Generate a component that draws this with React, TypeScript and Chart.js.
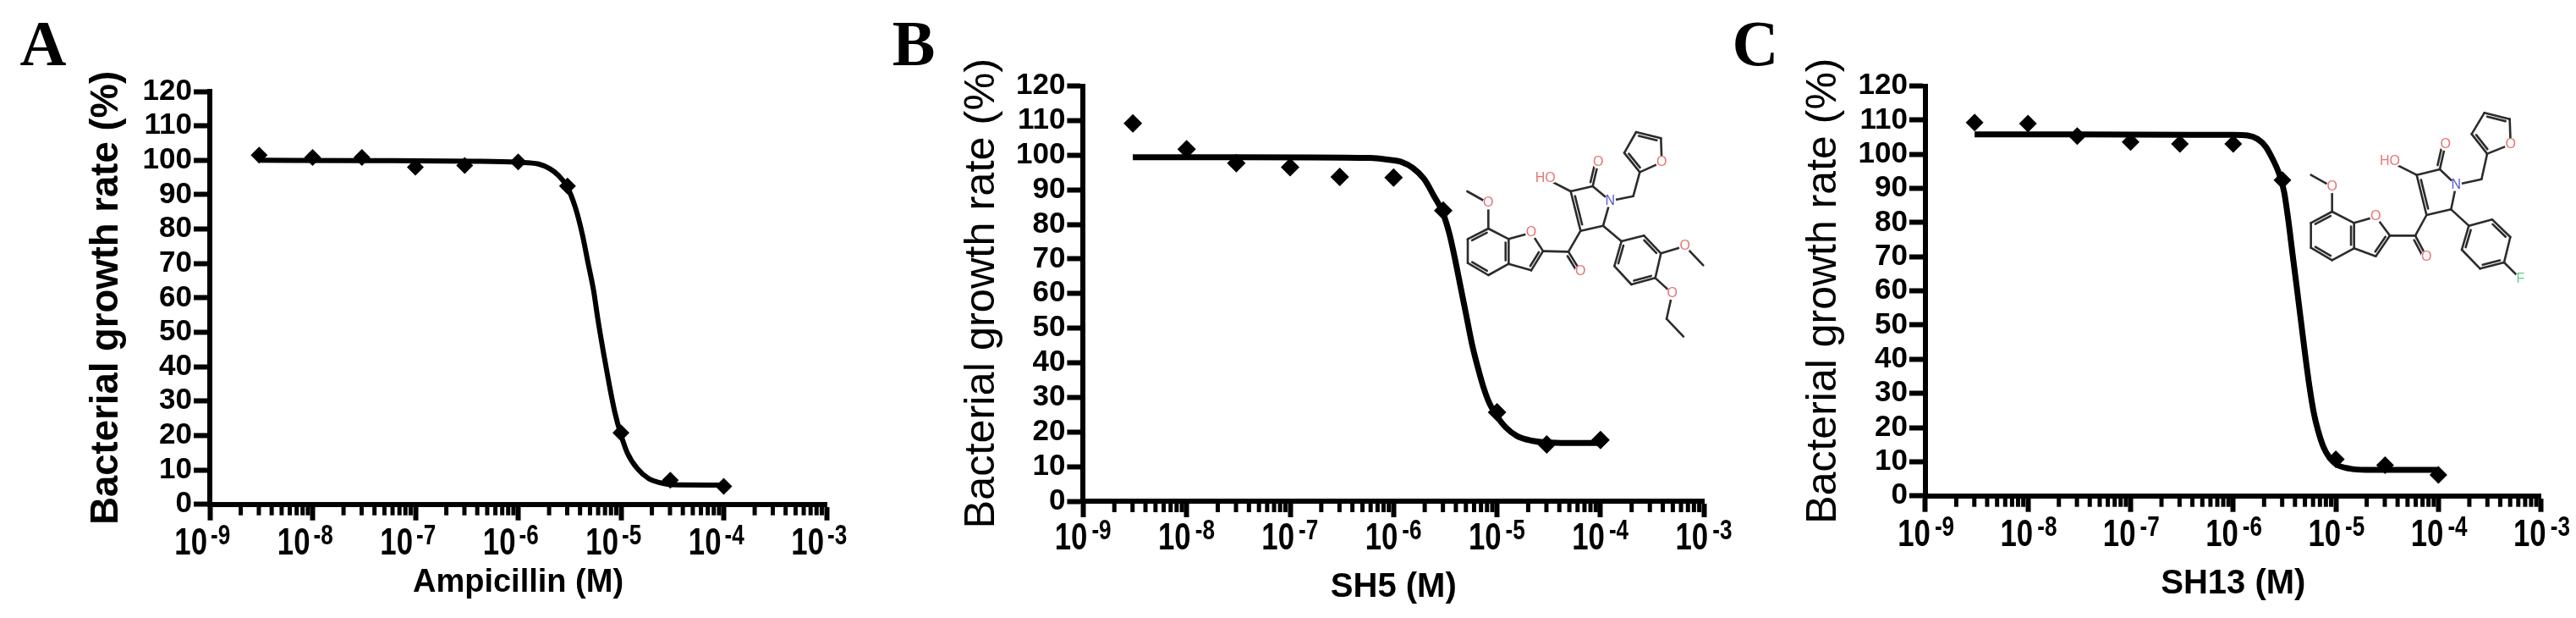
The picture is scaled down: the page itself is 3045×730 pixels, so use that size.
import React, { useEffect, useRef } from "react";
import { Chart, registerables } from "chart.js";

Chart.register(...registerables);

const doseLog = [-8.52, -8, -7.52, -7, -6.52, -6, -5.52, -5, -4.52, -4];

const pointsA = [101.5, 100.8, 100.8, 98, 98.5, 99.5, 92.5, 20.8, 7, 5.2];
const pointsB = [109.2, 101.7, 97.7, 96.5, 93.7, 93.5, 84, 25.7, 16.4, 17.7];
const pointsC = [109.3, 109, 105.3, 103.6, 103, 103, 92.4, 10.7, 9, 6.1];

const curveLogA = [-8.52, -7.5, -6.432, -6.007, -5.801, -5.691, -5.609, -5.527, -5.444, -5.376, -5.321, -5.266, -5.225, -5.17, -5.115, -5.06, -5.005, -4.937, -4.841, -4.731, -4.621, -4.512, -4];
const curveA = [100, 99.9, 99.7, 99.4, 98.9, 97.5, 95.6, 92.5, 86.3, 78.5, 70.3, 62.1, 53.9, 44.1, 35, 26.8, 20.7, 14.9, 10.4, 7.5, 6.3, 5.7, 5.6];

const curveLogB = [-8.52, -7.5, -6.223, -6.059, -5.923, -5.814, -5.705, -5.61, -5.528, -5.46, -5.405, -5.351, -5.296, -5.242, -5.187, -5.133, -5.078, -5.01, -4.915, -4.806, -4.669, -4.533, -4.315, -4];
const curveB = [99.4, 99.4, 99.2, 98.7, 98, 96.3, 93.1, 88.2, 83.7, 77.2, 69.8, 61.7, 53.5, 45.4, 38.8, 33.1, 28.6, 25, 21.3, 18.8, 17.5, 17, 16.8, 16.8];

const curveLogC = [-8.52, -7.5, -6.411, -5.999, -5.861, -5.765, -5.683, -5.614, -5.559, -5.504, -5.463, -5.422, -5.38, -5.339, -5.298, -5.257, -5.216, -5.174, -5.119, -5.064, -4.982, -4.872, -4.707, -4.103, -4];
const curveC = [105.8, 105.8, 105.7, 105.7, 105.5, 104.5, 102.2, 98.5, 94.8, 89, 80.7, 70.8, 60.9, 51, 41.1, 32, 24.5, 19.2, 14.2, 11.3, 9, 8, 7.6, 7.6, 7.6];

const xDecades = [-9, -8, -7, -6, -5, -4, -3];
const yTicksStep = 10;
const yTitle = "Bacterial growth rate (%)";

type Pts = Record<string, number[]>;

const moleculeB: Pts = {
  me: [103, 318], oMe: [178, 360], c7: [178, 450], c6: [105, 487], c5: [105, 572], c4: [178, 615], c3a: [250, 575], c7a: [250, 487],
  o1: [330, 465], c2: [372, 530], c3: [330, 598], cco: [462, 532], oco: [505, 602], c4p: [505, 458], c3p: [470, 318], c2p: [548, 300],
  n: [610, 352], c5p: [585, 440], oh: [380, 272], o2p: [568, 215], ch2: [692, 335], f2: [715, 250], f3: [660, 182], f4: [702, 108], f5: [790, 130], fo: [793, 215],
  a1: [650, 495], a2: [730, 475], a3: [790, 538], a4: [770, 625], a5: [685, 648], a6: [625, 583],
  o3: [875, 512], m3: [940, 580], o4: [830, 680], e1: [810, 770], e2: [870, 833],
};
const moleculeC: Pts = {
  me: [-25, 230], oMe: [50, 272], c7: [50, 360], c6: [-25, 400], c5: [-25, 488], c4: [50, 532], c3a: [128, 490], c7a: [128, 400],
  o1: [205, 378], c2: [255, 445], c3: [205, 518], cco: [345, 445], oco: [385, 520], c4p: [385, 372], c3p: [350, 230], c2p: [432, 210],
  n: [490, 265], c5p: [472, 352], oh: [255, 182], o2p: [452, 122], ch2: [580, 245], f2: [600, 155], f3: [545, 85], f4: [590, 10], f5: [680, 32], fo: [683, 122],
  a1: [535, 410], a2: [618, 388], a3: [682, 450], a4: [660, 540], a5: [575, 562], a6: [510, 495], fl: [718, 598],
};
const singleBonds = [
  ["me", "oMe"], ["oMe", "c7"], ["c7", "c7a"], ["c6", "c5"], ["c4", "c3a"], ["c7a", "o1"], ["o1", "c2"], ["c3", "c3a"], ["c2", "cco"], ["cco", "c4p"],
  ["c3p", "c2p"], ["c2p", "n"], ["n", "c5p"], ["c5p", "c4p"], ["c3p", "oh"], ["n", "ch2"], ["ch2", "f2"], ["f3", "f4"], ["f5", "fo"], ["fo", "f2"],
  ["c5p", "a1"], ["a1", "a2"], ["a3", "a4"], ["a5", "a6"],
  ["a3", "o3"], ["o3", "m3"], ["a4", "o4"], ["o4", "e1"], ["e1", "e2"], ["a4", "fl"],
];
const doubleBonds = [
  ["c7", "c6", "c3a"], ["c5", "c4", "c7a"], ["c3a", "c7a", "c5"], ["c2", "c3", "o1"], ["cco", "oco", "c2"], ["c3p", "c4p", "n"], ["c2p", "o2p", "c3p"],
  ["f2", "f3", "f5"], ["f4", "f5", "f2"], ["a1", "a6", "a3"], ["a2", "a3", "a5"], ["a4", "a5", "a2"],
];
const atomLabels: [string, string, string][] = [
  ["oMe", "O", "#e87474"], ["o1", "O", "#e87474"], ["oco", "O", "#e87474"], ["o2p", "O", "#e87474"], ["fo", "O", "#e87474"], ["o3", "O", "#e87474"], ["o4", "O", "#e87474"],
  ["oh", "HO", "#e87474"], ["n", "N", "#5a5ad6"], ["fl", "F", "#62cf90"],
];

const sans = "'Liberation Sans', Arial, sans-serif";

type Panel = {
  letter: string; letterX: number; xTitle: string; xTitleWeight: string; xTitleSize: number; xTitleY: number;
  canvasLeft: number; canvasWidth: number; left: number; decade: number; top: number; y0: number;
  yTitleX: number; yTitleWeight: string; yTitleSize: number; points: number[]; curveLog: number[]; curve: number[];
  lineW: number; radius: number; tenDx: number; expDx: number; tenDy: number;
  molecule?: Pts; molX?: number; molY?: number;
};

const panels: Panel[] = [
  { letter: "A", letterX: 51, xTitle: "Ampicillin (M)", xTitleWeight: "bold", xTitleSize: 38, xTitleY: 689, canvasLeft: 0, canvasWidth: 1040, left: 248, decade: 121.5, top: 108, y0: 595.7, yTitleX: 126, yTitleWeight: "bold", yTitleSize: 45.5, points: pointsA, curveLog: curveLogA, curve: curveA, lineW: 6, radius: 10, tenDx: -3, expDx: 1, tenDy: 59.5 },
  { letter: "B", letterX: 40, xTitle: "SH5 (M)", xTitleWeight: "bold", xTitleSize: 40, xTitleY: 694, canvasLeft: 1040, canvasWidth: 1030, left: 240.4, decade: 122.3, top: 101.5, y0: 592, yTitleX: 121, yTitleWeight: "normal", yTitleSize: 50.5, points: pointsB, curveLog: curveLogB, curve: curveB, lineW: 7, radius: 11, tenDx: 5, expDx: 10, tenDy: 57, molecule: moleculeB, molX: 660, molY: 120 },
  { letter: "C", letterX: 35, xTitle: "SH13 (M)", xTitleWeight: "bold", xTitleSize: 40, xTitleY: 690, canvasLeft: 2040, canvasWidth: 1005, left: 235.9, decade: 121.3, top: 101.5, y0: 585.7, yTitleX: 116, yTitleWeight: "normal", yTitleSize: 50, points: pointsC, curveLog: curveLogC, curve: curveC, lineW: 7, radius: 10.5, tenDx: 6, expDx: 11, tenDy: 59, molecule: moleculeC, molX: 700, molY: 130 },
];

function drawMolecule(ctx: CanvasRenderingContext2D, m: Pts, ox: number, oy: number) {
  const P = (k: string) => [ox + m[k][0] / 3, oy + m[k][1] / 3];
  ctx.save();
  ctx.strokeStyle = "#2c2c2c";
  ctx.lineWidth = 2.6;
  ctx.lineCap = "round";
  const seg = (a: number[], b: number[]) => { ctx.beginPath(); ctx.moveTo(a[0], a[1]); ctx.lineTo(b[0], b[1]); ctx.stroke(); };
  singleBonds.forEach(([a, b]) => { if (m[a] && m[b]) seg(P(a), P(b)); });
  doubleBonds.forEach(([a, b, c]) => {
    const A = P(a), B = P(b), C = P(c);
    seg(A, B);
    const dx = B[0] - A[0], dy = B[1] - A[1], len = Math.hypot(dx, dy);
    let nx = -dy / len, ny = dx / len;
    if ((C[0] - A[0]) * nx + (C[1] - A[1]) * ny < 0) { nx = -nx; ny = -ny; }
    const off = 3.6, s = 0.14;
    seg([A[0] + dx * s + nx * off, A[1] + dy * s + ny * off], [B[0] - dx * s + nx * off, B[1] - dy * s + ny * off]);
  });
  ctx.font = `16px ${sans}`;
  ctx.textAlign = "center";
  ctx.textBaseline = "middle";
  atomLabels.forEach(([k, t, color]) => {
    if (!m[k]) return;
    const [x, y] = P(k);
    ctx.fillStyle = "#fff";
    ctx.beginPath();
    ctx.ellipse(x, y, t.length > 1 ? 14 : 7, 7.5, 0, 0, Math.PI * 2);
    ctx.fill();
    ctx.fillStyle = color;
    ctx.fillText(t, x, y);
  });
  ctx.restore();
}

const squeeze = 0.79;

const decorations = {
  id: "decorations",
  afterDatasetsDraw(chart: any, _a: any, opts: any) {
    const p: Panel = opts.panel;
    const { ctx } = chart;
    const xs = chart.scales.x;
    ctx.save();
    ctx.fillStyle = "#000";
    ctx.strokeStyle = "#000";
    ctx.lineWidth = 5;
    const yb = xs.top;
    xDecades.slice(0, -1).forEach((d) => {
      [2, 3, 4, 5, 6, 7, 8, 9].forEach((m) => {
        const px = xs.getPixelForValue(m * Math.pow(10, d));
        ctx.beginPath();
        ctx.moveTo(px, yb);
        ctx.lineTo(px, yb + 13);
        ctx.stroke();
      });
    });
    ctx.textBaseline = "alphabetic";
    const squeezed = (text: string, x: number, y: number, align: CanvasTextAlign, size: number) => {
      ctx.save();
      ctx.translate(x, y);
      ctx.scale(squeeze, 1);
      ctx.textAlign = align;
      ctx.font = `bold ${size}px ${sans}`;
      ctx.fillText(text, 0, 0);
      ctx.restore();
    };
    xDecades.forEach((d) => {
      const px = xs.getPixelForValue(Math.pow(10, d));
      squeezed("10", px + p.tenDx, yb + p.tenDy, "right", 44);
      squeezed(String(d), px + p.expDx, yb + p.tenDy - 12, "left", 33);
    });
    ctx.textAlign = "center";
    ctx.font = "bold 76px 'Liberation Serif', serif";
    ctx.fillText(p.letter, p.letterX, 77);
    ctx.restore();
    if (p.molecule) drawMolecule(ctx, p.molecule, p.molX as number, p.molY as number);
  },
};

function config(p: Panel): any {
  const lhY = p.yTitleSize * 1.2;
  const lhX = p.xTitleSize * 1.2;
  return {
    type: "scatter",
    data: {
      datasets: [
        {
          label: "Fit",
          data: p.curveLog.map((l, i) => ({ x: Math.pow(10, l), y: p.curve[i] })),
          showLine: true,
          borderColor: "#000",
          borderWidth: p.lineW,
          cubicInterpolationMode: "monotone",
          pointRadius: 0,
          order: 2,
        },
        {
          label: "Measured",
          data: doseLog.map((l, i) => ({ x: Math.pow(10, l), y: p.points[i] })),
          showLine: false,
          pointStyle: "rectRot",
          pointRadius: p.radius,
          pointBackgroundColor: "#000",
          pointBorderColor: "#000",
          pointBorderWidth: 0,
          order: 1,
        },
      ],
    },
    options: {
      animation: false,
      responsive: false,
      devicePixelRatio: 1,
      layout: { padding: { top: p.top, left: 0, bottom: 0, right: p.canvasWidth - p.left - p.decade * 6 } },
      plugins: { legend: { display: false }, tooltip: { enabled: false }, title: { display: false }, decorations: { panel: p } },
      scales: {
        x: {
          type: "logarithmic",
          min: 1e-9,
          max: 1e-3,
          afterBuildTicks: (s: any) => { s.ticks = xDecades.map((d) => ({ value: Math.pow(10, d), major: true })); },
          afterFit: (s: any) => { s.height = 730 - p.y0; },
          ticks: { display: false, autoSkip: false },
          grid: { drawOnChartArea: false, drawTicks: true, tickLength: 19, tickWidth: 6, tickColor: "#000" },
          border: { color: "#000", width: 6 },
          title: {
            display: true, text: p.xTitle, color: "#000",
            font: { family: sans, size: p.xTitleSize, weight: p.xTitleWeight, lineHeight: 1.2 },
            padding: { top: 0, bottom: 730 - p.xTitleY - lhX / 2 },
          },
        },
        y: {
          min: 0,
          max: 120,
          afterFit: (s: any) => { s.width = p.left; },
          ticks: { stepSize: yTicksStep, autoSkip: false, padding: 2, color: "#000", font: { family: sans, size: 35, weight: "bold" } },
          grid: { drawOnChartArea: false, drawTicks: true, tickLength: 19, tickWidth: 6, tickColor: "#000" },
          border: { color: "#000", width: 6 },
          title: {
            display: true, text: yTitle, color: "#000",
            font: { family: sans, size: p.yTitleSize, weight: p.yTitleWeight, lineHeight: 1.2 },
            padding: { top: p.yTitleX - lhY / 2, bottom: 0 },
          },
        },
      },
    },
    plugins: [decorations],
  };
}

function PanelChart({ p }: { p: Panel }) {
  const ref = useRef<HTMLCanvasElement>(null);
  useEffect(() => {
    const chart = new Chart(ref.current as HTMLCanvasElement, config(p));
    return () => chart.destroy();
  }, [p]);
  return (
    <canvas
      ref={ref}
      width={p.canvasWidth}
      height={730}
      style={{ position: "absolute", left: p.canvasLeft, top: 0, width: p.canvasWidth, height: 730, filter: "blur(0.7px)" }}
    />
  );
}

export default function App() {
  return (
    <div style={{ position: "absolute", left: 0, top: 0, width: 3045, height: 730, overflow: "hidden", background: "#fff" }}>
      {panels.map((p) => <PanelChart key={p.letter} p={p} />)}
    </div>
  );
}
